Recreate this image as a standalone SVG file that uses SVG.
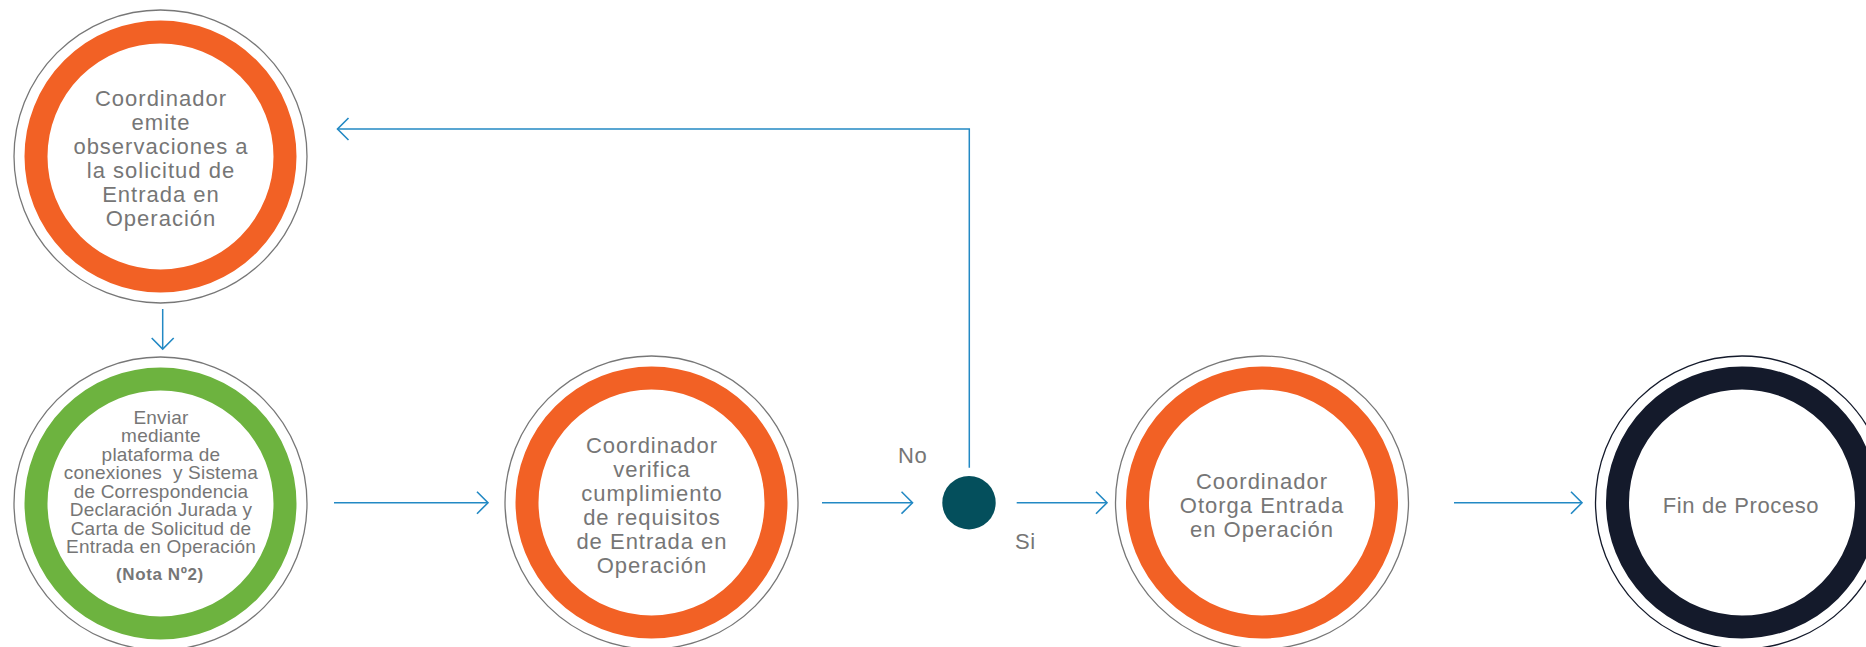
<svg xmlns="http://www.w3.org/2000/svg" width="1866" height="647" viewBox="0 0 1866 647">
<defs>
<style>
.outer{fill:#fff;stroke:#777;stroke-width:1.3}
.ring{fill:none;stroke-width:23}
.orange{stroke:#f26125}
.green{stroke:#6db33f}
.navy{stroke:#141a2b}
.t{font-family:"Liberation Sans",Arial,sans-serif;font-size:22px;fill:#767676;text-anchor:middle;letter-spacing:1px}
.s{font-family:"Liberation Sans",Arial,sans-serif;font-size:19px;fill:#767676;text-anchor:middle;letter-spacing:0.2px}
.b{font-family:"Liberation Sans",Arial,sans-serif;font-size:17px;font-weight:bold;fill:#767676;text-anchor:middle;letter-spacing:0.6px}
.lbl{font-family:"Liberation Sans",Arial,sans-serif;font-size:22px;fill:#767676;letter-spacing:0.5px}
.c{fill:none;stroke:#2389c4;stroke-width:1.5}
</style>
<marker id="arr" viewBox="0 0 14 24" refX="12" refY="12" markerWidth="14" markerHeight="24" markerUnits="userSpaceOnUse" orient="auto">
<path d="M1,1 L12,12 L1,23" fill="none" stroke="#2389c4" stroke-width="1.6"/>
</marker>
</defs>

<g id="connectors">
<line class="c" x1="162.7" y1="309" x2="162.7" y2="349" marker-end="url(#arr)"/>
<line class="c" x1="334" y1="502.7" x2="488" y2="502.7" marker-end="url(#arr)"/>
<line class="c" x1="822" y1="502.7" x2="912.5" y2="502.7" marker-end="url(#arr)"/>
<line class="c" x1="1016.7" y1="502.7" x2="1107" y2="502.7" marker-end="url(#arr)"/>
<line class="c" x1="1454" y1="502.7" x2="1582" y2="502.7" marker-end="url(#arr)"/>
<polyline class="c" points="969.3,467.7 969.3,129 337.5,129" marker-end="url(#arr)"/>
<text class="lbl" x="898" y="462.7">No</text>
<text class="lbl" x="1015" y="549">Si</text>
</g>

<g id="node-observaciones">
<circle class="outer" cx="160.5" cy="156.5" r="146.5"/>
<circle class="ring orange" cx="160.5" cy="156.5" r="124.5"/>
<text class="t" x="161" y="106">Coordinador</text>
<text class="t" x="161" y="130">emite</text>
<text class="t" x="161" y="154">observaciones a</text>
<text class="t" x="161" y="178">la solicitud de</text>
<text class="t" x="161" y="202">Entrada en</text>
<text class="t" x="161" y="226">Operación</text>
</g>

<g id="node-enviar">
<circle class="outer" cx="160.5" cy="503.5" r="146.5"/>
<circle class="ring green" cx="160.5" cy="503.5" r="124.5"/>
<text class="s" x="161" y="423.5">Enviar</text>
<text class="s" x="161" y="442">mediante</text>
<text class="s" x="161" y="460.5">plataforma de</text>
<text class="s" x="161" y="479" xml:space="preserve">conexiones  y Sistema</text>
<text class="s" x="161" y="497.5">de Correspondencia</text>
<text class="s" x="161" y="516">Declaración Jurada y</text>
<text class="s" x="161" y="534.5">Carta de Solicitud de</text>
<text class="s" x="161" y="553">Entrada en Operación</text>
<text class="b" x="160" y="580">(Nota Nº2)</text>
</g>

<g id="node-verifica">
<circle class="outer" cx="651.5" cy="502.5" r="146.5"/>
<circle class="ring orange" cx="651.5" cy="502.5" r="124.5"/>
<text class="t" x="652" y="453">Coordinador</text>
<text class="t" x="652" y="477">verifica</text>
<text class="t" x="652" y="501">cumplimiento</text>
<text class="t" x="652" y="525">de requisitos</text>
<text class="t" x="652" y="549">de Entrada en</text>
<text class="t" x="652" y="573">Operación</text>
</g>

<g id="node-decision">
<circle cx="969" cy="502.7" r="26.7" fill="#044f5c"/>
</g>

<g id="node-otorga">
<circle class="outer" cx="1262" cy="502.5" r="146.5"/>
<circle class="ring orange" cx="1262" cy="502.5" r="124.5"/>
<text class="t" x="1262" y="489">Coordinador</text>
<text class="t" x="1262" y="513">Otorga Entrada</text>
<text class="t" x="1262" y="537">en Operación</text>
</g>

<g id="node-fin">
<circle class="outer" cx="1742" cy="502.5" r="146.5" style="stroke:#141a2b"/>
<circle class="ring navy" cx="1742" cy="502.5" r="124.5"/>
<text class="t" x="1741" y="512.5" style="letter-spacing:0.6px">Fin de Proceso</text>
</g>
</svg>
